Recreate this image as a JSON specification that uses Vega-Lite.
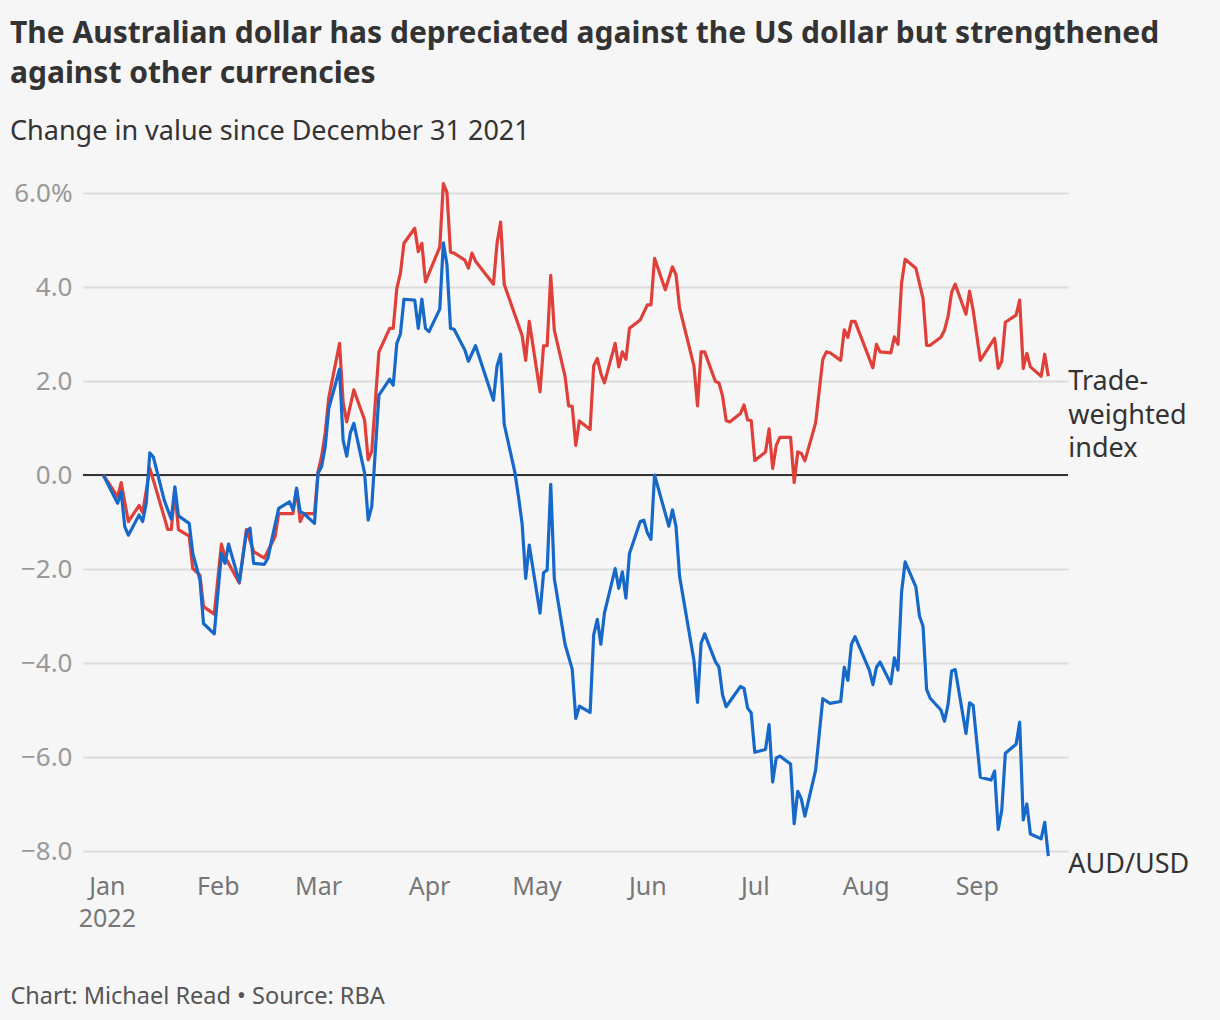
{
  "$schema": "https://vega.github.io/schema/vega-lite/v6.json",
  "width": 985,
  "height": 658,
  "autosize": "none",
  "padding": {"left": 83, "top": 193, "right": 152, "bottom": 169},
  "background": "#f6f6f6",
  "config": {"view": {"stroke": null}, "font": "Noto Sans"},
  "title": {
    "text": ["The Australian dollar has depreciated against the US dollar but strengthened", "against other currencies"],
    "subtitle": "Change in value since December 31 2021",
    "anchor": "start",
    "frame": "group",
    "dx": -73,
    "font": "Noto Sans",
    "fontSize": 30,
    "fontWeight": "bold",
    "color": "#333333",
    "lineHeight": 40,
    "subtitleFont": "Noto Sans",
    "subtitleFontSize": 27,
    "subtitleFontWeight": "normal",
    "subtitleColor": "#333333",
    "subtitlePadding": 30,
    "offset": 35
  },
  "datasets": {
    "rates": [
      {"date": "2021-12-31", "series": "AUD/USD", "value": 0},
      {"date": "2022-01-04", "series": "AUD/USD", "value": -0.60},
      {"date": "2022-01-05", "series": "AUD/USD", "value": -0.36},
      {"date": "2022-01-06", "series": "AUD/USD", "value": -1.10},
      {"date": "2022-01-07", "series": "AUD/USD", "value": -1.28},
      {"date": "2022-01-10", "series": "AUD/USD", "value": -0.85},
      {"date": "2022-01-11", "series": "AUD/USD", "value": -0.99},
      {"date": "2022-01-12", "series": "AUD/USD", "value": -0.60},
      {"date": "2022-01-13", "series": "AUD/USD", "value": 0.47},
      {"date": "2022-01-14", "series": "AUD/USD", "value": 0.38},
      {"date": "2022-01-17", "series": "AUD/USD", "value": -0.53},
      {"date": "2022-01-18", "series": "AUD/USD", "value": -0.74},
      {"date": "2022-01-19", "series": "AUD/USD", "value": -0.94},
      {"date": "2022-01-20", "series": "AUD/USD", "value": -0.25},
      {"date": "2022-01-21", "series": "AUD/USD", "value": -0.87},
      {"date": "2022-01-24", "series": "AUD/USD", "value": -1.03},
      {"date": "2022-01-25", "series": "AUD/USD", "value": -1.67},
      {"date": "2022-01-26", "series": "AUD/USD", "value": -1.95},
      {"date": "2022-01-27", "series": "AUD/USD", "value": -2.23},
      {"date": "2022-01-28", "series": "AUD/USD", "value": -3.16},
      {"date": "2022-01-31", "series": "AUD/USD", "value": -3.38},
      {"date": "2022-02-02", "series": "AUD/USD", "value": -1.67},
      {"date": "2022-02-03", "series": "AUD/USD", "value": -1.88},
      {"date": "2022-02-04", "series": "AUD/USD", "value": -1.47},
      {"date": "2022-02-07", "series": "AUD/USD", "value": -2.27},
      {"date": "2022-02-09", "series": "AUD/USD", "value": -1.21},
      {"date": "2022-02-10", "series": "AUD/USD", "value": -1.13},
      {"date": "2022-02-11", "series": "AUD/USD", "value": -1.88},
      {"date": "2022-02-14", "series": "AUD/USD", "value": -1.90},
      {"date": "2022-02-15", "series": "AUD/USD", "value": -1.77},
      {"date": "2022-02-16", "series": "AUD/USD", "value": -1.40},
      {"date": "2022-02-18", "series": "AUD/USD", "value": -0.71},
      {"date": "2022-02-21", "series": "AUD/USD", "value": -0.57},
      {"date": "2022-02-22", "series": "AUD/USD", "value": -0.74},
      {"date": "2022-02-23", "series": "AUD/USD", "value": -0.28},
      {"date": "2022-02-24", "series": "AUD/USD", "value": -0.78},
      {"date": "2022-02-25", "series": "AUD/USD", "value": -0.82},
      {"date": "2022-02-28", "series": "AUD/USD", "value": -1.03},
      {"date": "2022-03-01", "series": "AUD/USD", "value": 0.04},
      {"date": "2022-03-02", "series": "AUD/USD", "value": 0.18},
      {"date": "2022-03-03", "series": "AUD/USD", "value": 0.60},
      {"date": "2022-03-04", "series": "AUD/USD", "value": 1.42},
      {"date": "2022-03-07", "series": "AUD/USD", "value": 2.25},
      {"date": "2022-03-08", "series": "AUD/USD", "value": 0.74},
      {"date": "2022-03-09", "series": "AUD/USD", "value": 0.40},
      {"date": "2022-03-10", "series": "AUD/USD", "value": 0.89},
      {"date": "2022-03-11", "series": "AUD/USD", "value": 1.10},
      {"date": "2022-03-14", "series": "AUD/USD", "value": 0.04},
      {"date": "2022-03-15", "series": "AUD/USD", "value": -0.96},
      {"date": "2022-03-16", "series": "AUD/USD", "value": -0.67},
      {"date": "2022-03-18", "series": "AUD/USD", "value": 1.70},
      {"date": "2022-03-21", "series": "AUD/USD", "value": 2.04},
      {"date": "2022-03-22", "series": "AUD/USD", "value": 1.91},
      {"date": "2022-03-23", "series": "AUD/USD", "value": 2.80},
      {"date": "2022-03-24", "series": "AUD/USD", "value": 3.00},
      {"date": "2022-03-25", "series": "AUD/USD", "value": 3.74},
      {"date": "2022-03-28", "series": "AUD/USD", "value": 3.72},
      {"date": "2022-03-29", "series": "AUD/USD", "value": 3.12},
      {"date": "2022-03-30", "series": "AUD/USD", "value": 3.74},
      {"date": "2022-03-31", "series": "AUD/USD", "value": 3.12},
      {"date": "2022-04-01", "series": "AUD/USD", "value": 3.05},
      {"date": "2022-04-04", "series": "AUD/USD", "value": 3.53},
      {"date": "2022-04-05", "series": "AUD/USD", "value": 4.94},
      {"date": "2022-04-06", "series": "AUD/USD", "value": 4.48},
      {"date": "2022-04-07", "series": "AUD/USD", "value": 3.12},
      {"date": "2022-04-08", "series": "AUD/USD", "value": 3.10},
      {"date": "2022-04-11", "series": "AUD/USD", "value": 2.66},
      {"date": "2022-04-12", "series": "AUD/USD", "value": 2.42},
      {"date": "2022-04-14", "series": "AUD/USD", "value": 2.75},
      {"date": "2022-04-19", "series": "AUD/USD", "value": 1.59},
      {"date": "2022-04-20", "series": "AUD/USD", "value": 2.32},
      {"date": "2022-04-21", "series": "AUD/USD", "value": 2.57},
      {"date": "2022-04-22", "series": "AUD/USD", "value": 1.08},
      {"date": "2022-04-25", "series": "AUD/USD", "value": 0.05},
      {"date": "2022-04-26", "series": "AUD/USD", "value": -0.47},
      {"date": "2022-04-27", "series": "AUD/USD", "value": -1.03},
      {"date": "2022-04-28", "series": "AUD/USD", "value": -2.20},
      {"date": "2022-04-29", "series": "AUD/USD", "value": -1.49},
      {"date": "2022-05-02", "series": "AUD/USD", "value": -2.94},
      {"date": "2022-05-03", "series": "AUD/USD", "value": -2.08},
      {"date": "2022-05-04", "series": "AUD/USD", "value": -2.02},
      {"date": "2022-05-05", "series": "AUD/USD", "value": -0.20},
      {"date": "2022-05-06", "series": "AUD/USD", "value": -2.20},
      {"date": "2022-05-09", "series": "AUD/USD", "value": -3.60},
      {"date": "2022-05-11", "series": "AUD/USD", "value": -4.13},
      {"date": "2022-05-12", "series": "AUD/USD", "value": -5.18},
      {"date": "2022-05-13", "series": "AUD/USD", "value": -4.92},
      {"date": "2022-05-16", "series": "AUD/USD", "value": -5.05},
      {"date": "2022-05-17", "series": "AUD/USD", "value": -3.40},
      {"date": "2022-05-18", "series": "AUD/USD", "value": -3.07},
      {"date": "2022-05-19", "series": "AUD/USD", "value": -3.60},
      {"date": "2022-05-20", "series": "AUD/USD", "value": -2.94},
      {"date": "2022-05-23", "series": "AUD/USD", "value": -1.99},
      {"date": "2022-05-24", "series": "AUD/USD", "value": -2.41},
      {"date": "2022-05-25", "series": "AUD/USD", "value": -2.06},
      {"date": "2022-05-26", "series": "AUD/USD", "value": -2.62},
      {"date": "2022-05-27", "series": "AUD/USD", "value": -1.67},
      {"date": "2022-05-30", "series": "AUD/USD", "value": -0.99},
      {"date": "2022-05-31", "series": "AUD/USD", "value": -0.96},
      {"date": "2022-06-01", "series": "AUD/USD", "value": -1.23},
      {"date": "2022-06-02", "series": "AUD/USD", "value": -1.37},
      {"date": "2022-06-03", "series": "AUD/USD", "value": 0.0},
      {"date": "2022-06-07", "series": "AUD/USD", "value": -1.09},
      {"date": "2022-06-08", "series": "AUD/USD", "value": -0.74},
      {"date": "2022-06-09", "series": "AUD/USD", "value": -1.10},
      {"date": "2022-06-10", "series": "AUD/USD", "value": -2.16},
      {"date": "2022-06-14", "series": "AUD/USD", "value": -3.94},
      {"date": "2022-06-15", "series": "AUD/USD", "value": -4.84},
      {"date": "2022-06-16", "series": "AUD/USD", "value": -3.58},
      {"date": "2022-06-17", "series": "AUD/USD", "value": -3.38},
      {"date": "2022-06-20", "series": "AUD/USD", "value": -3.97},
      {"date": "2022-06-21", "series": "AUD/USD", "value": -4.09},
      {"date": "2022-06-22", "series": "AUD/USD", "value": -4.68},
      {"date": "2022-06-23", "series": "AUD/USD", "value": -4.93},
      {"date": "2022-06-27", "series": "AUD/USD", "value": -4.50},
      {"date": "2022-06-28", "series": "AUD/USD", "value": -4.54},
      {"date": "2022-06-29", "series": "AUD/USD", "value": -4.96},
      {"date": "2022-06-30", "series": "AUD/USD", "value": -5.06},
      {"date": "2022-07-01", "series": "AUD/USD", "value": -5.90},
      {"date": "2022-07-04", "series": "AUD/USD", "value": -5.84},
      {"date": "2022-07-05", "series": "AUD/USD", "value": -5.31},
      {"date": "2022-07-06", "series": "AUD/USD", "value": -6.53},
      {"date": "2022-07-07", "series": "AUD/USD", "value": -6.02},
      {"date": "2022-07-08", "series": "AUD/USD", "value": -5.98},
      {"date": "2022-07-11", "series": "AUD/USD", "value": -6.15},
      {"date": "2022-07-12", "series": "AUD/USD", "value": -7.42},
      {"date": "2022-07-13", "series": "AUD/USD", "value": -6.73},
      {"date": "2022-07-14", "series": "AUD/USD", "value": -6.89},
      {"date": "2022-07-15", "series": "AUD/USD", "value": -7.26},
      {"date": "2022-07-18", "series": "AUD/USD", "value": -6.28},
      {"date": "2022-07-20", "series": "AUD/USD", "value": -4.76},
      {"date": "2022-07-22", "series": "AUD/USD", "value": -4.86},
      {"date": "2022-07-25", "series": "AUD/USD", "value": -4.82},
      {"date": "2022-07-26", "series": "AUD/USD", "value": -4.09},
      {"date": "2022-07-27", "series": "AUD/USD", "value": -4.37},
      {"date": "2022-07-28", "series": "AUD/USD", "value": -3.60},
      {"date": "2022-07-29", "series": "AUD/USD", "value": -3.44},
      {"date": "2022-08-02", "series": "AUD/USD", "value": -4.15},
      {"date": "2022-08-03", "series": "AUD/USD", "value": -4.46},
      {"date": "2022-08-04", "series": "AUD/USD", "value": -4.09},
      {"date": "2022-08-05", "series": "AUD/USD", "value": -3.98},
      {"date": "2022-08-08", "series": "AUD/USD", "value": -4.44},
      {"date": "2022-08-09", "series": "AUD/USD", "value": -3.89},
      {"date": "2022-08-10", "series": "AUD/USD", "value": -4.15},
      {"date": "2022-08-11", "series": "AUD/USD", "value": -2.50},
      {"date": "2022-08-12", "series": "AUD/USD", "value": -1.85},
      {"date": "2022-08-15", "series": "AUD/USD", "value": -2.38},
      {"date": "2022-08-16", "series": "AUD/USD", "value": -3.00},
      {"date": "2022-08-17", "series": "AUD/USD", "value": -3.22},
      {"date": "2022-08-18", "series": "AUD/USD", "value": -4.56},
      {"date": "2022-08-19", "series": "AUD/USD", "value": -4.75},
      {"date": "2022-08-22", "series": "AUD/USD", "value": -5.00},
      {"date": "2022-08-23", "series": "AUD/USD", "value": -5.24},
      {"date": "2022-08-24", "series": "AUD/USD", "value": -4.88},
      {"date": "2022-08-25", "series": "AUD/USD", "value": -4.17},
      {"date": "2022-08-26", "series": "AUD/USD", "value": -4.14},
      {"date": "2022-08-29", "series": "AUD/USD", "value": -5.50},
      {"date": "2022-08-30", "series": "AUD/USD", "value": -4.85},
      {"date": "2022-08-31", "series": "AUD/USD", "value": -4.90},
      {"date": "2022-09-02", "series": "AUD/USD", "value": -6.43},
      {"date": "2022-09-05", "series": "AUD/USD", "value": -6.49},
      {"date": "2022-09-06", "series": "AUD/USD", "value": -6.30},
      {"date": "2022-09-07", "series": "AUD/USD", "value": -7.54},
      {"date": "2022-09-08", "series": "AUD/USD", "value": -7.13},
      {"date": "2022-09-09", "series": "AUD/USD", "value": -5.92},
      {"date": "2022-09-12", "series": "AUD/USD", "value": -5.73},
      {"date": "2022-09-13", "series": "AUD/USD", "value": -5.26},
      {"date": "2022-09-14", "series": "AUD/USD", "value": -7.34},
      {"date": "2022-09-15", "series": "AUD/USD", "value": -7.00},
      {"date": "2022-09-16", "series": "AUD/USD", "value": -7.64},
      {"date": "2022-09-19", "series": "AUD/USD", "value": -7.74},
      {"date": "2022-09-20", "series": "AUD/USD", "value": -7.39},
      {"date": "2022-09-21", "series": "AUD/USD", "value": -8.11},
      {"date": "2021-12-31", "series": "TWI", "value": 0},
      {"date": "2022-01-04", "series": "TWI", "value": -0.46},
      {"date": "2022-01-05", "series": "TWI", "value": -0.16},
      {"date": "2022-01-07", "series": "TWI", "value": -0.99},
      {"date": "2022-01-10", "series": "TWI", "value": -0.65},
      {"date": "2022-01-11", "series": "TWI", "value": -0.80},
      {"date": "2022-01-13", "series": "TWI", "value": 0.14},
      {"date": "2022-01-14", "series": "TWI", "value": -0.11},
      {"date": "2022-01-17", "series": "TWI", "value": -0.89},
      {"date": "2022-01-18", "series": "TWI", "value": -1.16},
      {"date": "2022-01-19", "series": "TWI", "value": -1.16},
      {"date": "2022-01-20", "series": "TWI", "value": -0.35},
      {"date": "2022-01-21", "series": "TWI", "value": -1.16},
      {"date": "2022-01-24", "series": "TWI", "value": -1.30},
      {"date": "2022-01-25", "series": "TWI", "value": -1.99},
      {"date": "2022-01-27", "series": "TWI", "value": -2.13},
      {"date": "2022-01-28", "series": "TWI", "value": -2.80},
      {"date": "2022-01-31", "series": "TWI", "value": -2.96},
      {"date": "2022-02-02", "series": "TWI", "value": -1.47},
      {"date": "2022-02-03", "series": "TWI", "value": -1.74},
      {"date": "2022-02-07", "series": "TWI", "value": -2.30},
      {"date": "2022-02-09", "series": "TWI", "value": -1.16},
      {"date": "2022-02-11", "series": "TWI", "value": -1.63},
      {"date": "2022-02-14", "series": "TWI", "value": -1.77},
      {"date": "2022-02-17", "series": "TWI", "value": -1.31},
      {"date": "2022-02-18", "series": "TWI", "value": -0.82},
      {"date": "2022-02-22", "series": "TWI", "value": -0.82},
      {"date": "2022-02-23", "series": "TWI", "value": -0.30},
      {"date": "2022-02-24", "series": "TWI", "value": -0.99},
      {"date": "2022-02-25", "series": "TWI", "value": -0.82},
      {"date": "2022-02-28", "series": "TWI", "value": -0.82},
      {"date": "2022-03-01", "series": "TWI", "value": 0.07},
      {"date": "2022-03-02", "series": "TWI", "value": 0.40},
      {"date": "2022-03-03", "series": "TWI", "value": 0.90},
      {"date": "2022-03-04", "series": "TWI", "value": 1.65},
      {"date": "2022-03-07", "series": "TWI", "value": 2.80},
      {"date": "2022-03-08", "series": "TWI", "value": 1.55},
      {"date": "2022-03-09", "series": "TWI", "value": 1.13},
      {"date": "2022-03-11", "series": "TWI", "value": 1.81},
      {"date": "2022-03-14", "series": "TWI", "value": 1.17},
      {"date": "2022-03-15", "series": "TWI", "value": 0.32},
      {"date": "2022-03-16", "series": "TWI", "value": 0.50},
      {"date": "2022-03-18", "series": "TWI", "value": 2.62},
      {"date": "2022-03-21", "series": "TWI", "value": 3.12},
      {"date": "2022-03-22", "series": "TWI", "value": 3.12},
      {"date": "2022-03-23", "series": "TWI", "value": 3.97},
      {"date": "2022-03-24", "series": "TWI", "value": 4.29},
      {"date": "2022-03-25", "series": "TWI", "value": 4.93},
      {"date": "2022-03-28", "series": "TWI", "value": 5.25},
      {"date": "2022-03-29", "series": "TWI", "value": 4.75},
      {"date": "2022-03-30", "series": "TWI", "value": 4.93},
      {"date": "2022-03-31", "series": "TWI", "value": 4.11},
      {"date": "2022-04-04", "series": "TWI", "value": 4.85},
      {"date": "2022-04-05", "series": "TWI", "value": 6.20},
      {"date": "2022-04-06", "series": "TWI", "value": 6.02},
      {"date": "2022-04-07", "series": "TWI", "value": 4.74},
      {"date": "2022-04-08", "series": "TWI", "value": 4.72},
      {"date": "2022-04-11", "series": "TWI", "value": 4.57},
      {"date": "2022-04-12", "series": "TWI", "value": 4.40},
      {"date": "2022-04-13", "series": "TWI", "value": 4.72},
      {"date": "2022-04-14", "series": "TWI", "value": 4.55},
      {"date": "2022-04-19", "series": "TWI", "value": 4.06},
      {"date": "2022-04-20", "series": "TWI", "value": 4.93},
      {"date": "2022-04-21", "series": "TWI", "value": 5.38},
      {"date": "2022-04-22", "series": "TWI", "value": 4.06},
      {"date": "2022-04-27", "series": "TWI", "value": 2.97},
      {"date": "2022-04-28", "series": "TWI", "value": 2.44},
      {"date": "2022-04-29", "series": "TWI", "value": 3.27},
      {"date": "2022-05-02", "series": "TWI", "value": 1.77},
      {"date": "2022-05-03", "series": "TWI", "value": 2.75},
      {"date": "2022-05-04", "series": "TWI", "value": 2.75},
      {"date": "2022-05-05", "series": "TWI", "value": 4.25},
      {"date": "2022-05-06", "series": "TWI", "value": 3.08},
      {"date": "2022-05-09", "series": "TWI", "value": 2.10},
      {"date": "2022-05-10", "series": "TWI", "value": 1.47},
      {"date": "2022-05-11", "series": "TWI", "value": 1.46},
      {"date": "2022-05-12", "series": "TWI", "value": 0.63},
      {"date": "2022-05-13", "series": "TWI", "value": 1.15},
      {"date": "2022-05-16", "series": "TWI", "value": 0.97},
      {"date": "2022-05-17", "series": "TWI", "value": 2.32},
      {"date": "2022-05-18", "series": "TWI", "value": 2.48},
      {"date": "2022-05-19", "series": "TWI", "value": 2.16},
      {"date": "2022-05-20", "series": "TWI", "value": 1.96},
      {"date": "2022-05-23", "series": "TWI", "value": 2.80},
      {"date": "2022-05-24", "series": "TWI", "value": 2.30},
      {"date": "2022-05-25", "series": "TWI", "value": 2.62},
      {"date": "2022-05-26", "series": "TWI", "value": 2.46},
      {"date": "2022-05-27", "series": "TWI", "value": 3.12},
      {"date": "2022-05-30", "series": "TWI", "value": 3.30},
      {"date": "2022-06-01", "series": "TWI", "value": 3.62},
      {"date": "2022-06-02", "series": "TWI", "value": 3.62},
      {"date": "2022-06-03", "series": "TWI", "value": 4.61},
      {"date": "2022-06-06", "series": "TWI", "value": 3.94},
      {"date": "2022-06-08", "series": "TWI", "value": 4.43},
      {"date": "2022-06-09", "series": "TWI", "value": 4.26},
      {"date": "2022-06-10", "series": "TWI", "value": 3.55},
      {"date": "2022-06-14", "series": "TWI", "value": 2.32},
      {"date": "2022-06-15", "series": "TWI", "value": 1.47},
      {"date": "2022-06-16", "series": "TWI", "value": 2.62},
      {"date": "2022-06-17", "series": "TWI", "value": 2.62},
      {"date": "2022-06-20", "series": "TWI", "value": 1.99},
      {"date": "2022-06-21", "series": "TWI", "value": 1.96},
      {"date": "2022-06-22", "series": "TWI", "value": 1.68},
      {"date": "2022-06-23", "series": "TWI", "value": 1.16},
      {"date": "2022-06-24", "series": "TWI", "value": 1.13},
      {"date": "2022-06-27", "series": "TWI", "value": 1.31},
      {"date": "2022-06-28", "series": "TWI", "value": 1.49},
      {"date": "2022-06-29", "series": "TWI", "value": 1.17},
      {"date": "2022-06-30", "series": "TWI", "value": 1.16},
      {"date": "2022-07-01", "series": "TWI", "value": 0.31},
      {"date": "2022-07-04", "series": "TWI", "value": 0.49},
      {"date": "2022-07-05", "series": "TWI", "value": 0.98},
      {"date": "2022-07-06", "series": "TWI", "value": 0.14},
      {"date": "2022-07-07", "series": "TWI", "value": 0.63},
      {"date": "2022-07-08", "series": "TWI", "value": 0.80},
      {"date": "2022-07-11", "series": "TWI", "value": 0.80},
      {"date": "2022-07-12", "series": "TWI", "value": -0.16},
      {"date": "2022-07-13", "series": "TWI", "value": 0.49},
      {"date": "2022-07-14", "series": "TWI", "value": 0.46},
      {"date": "2022-07-15", "series": "TWI", "value": 0.30},
      {"date": "2022-07-18", "series": "TWI", "value": 1.11},
      {"date": "2022-07-20", "series": "TWI", "value": 2.46},
      {"date": "2022-07-21", "series": "TWI", "value": 2.62},
      {"date": "2022-07-22", "series": "TWI", "value": 2.60},
      {"date": "2022-07-25", "series": "TWI", "value": 2.44},
      {"date": "2022-07-26", "series": "TWI", "value": 3.09},
      {"date": "2022-07-27", "series": "TWI", "value": 2.93},
      {"date": "2022-07-28", "series": "TWI", "value": 3.27},
      {"date": "2022-07-29", "series": "TWI", "value": 3.27},
      {"date": "2022-08-03", "series": "TWI", "value": 2.28},
      {"date": "2022-08-04", "series": "TWI", "value": 2.78},
      {"date": "2022-08-05", "series": "TWI", "value": 2.62},
      {"date": "2022-08-08", "series": "TWI", "value": 2.60},
      {"date": "2022-08-09", "series": "TWI", "value": 2.94},
      {"date": "2022-08-10", "series": "TWI", "value": 2.78},
      {"date": "2022-08-11", "series": "TWI", "value": 4.08},
      {"date": "2022-08-12", "series": "TWI", "value": 4.59},
      {"date": "2022-08-15", "series": "TWI", "value": 4.40},
      {"date": "2022-08-17", "series": "TWI", "value": 3.76},
      {"date": "2022-08-18", "series": "TWI", "value": 2.76},
      {"date": "2022-08-19", "series": "TWI", "value": 2.76},
      {"date": "2022-08-22", "series": "TWI", "value": 2.93},
      {"date": "2022-08-23", "series": "TWI", "value": 3.08},
      {"date": "2022-08-24", "series": "TWI", "value": 3.38},
      {"date": "2022-08-25", "series": "TWI", "value": 3.89},
      {"date": "2022-08-26", "series": "TWI", "value": 4.06},
      {"date": "2022-08-29", "series": "TWI", "value": 3.42},
      {"date": "2022-08-30", "series": "TWI", "value": 3.91},
      {"date": "2022-08-31", "series": "TWI", "value": 3.51},
      {"date": "2022-09-02", "series": "TWI", "value": 2.44},
      {"date": "2022-09-06", "series": "TWI", "value": 2.91},
      {"date": "2022-09-07", "series": "TWI", "value": 2.27},
      {"date": "2022-09-08", "series": "TWI", "value": 2.42},
      {"date": "2022-09-09", "series": "TWI", "value": 3.25},
      {"date": "2022-09-12", "series": "TWI", "value": 3.40},
      {"date": "2022-09-13", "series": "TWI", "value": 3.72},
      {"date": "2022-09-14", "series": "TWI", "value": 2.27},
      {"date": "2022-09-15", "series": "TWI", "value": 2.59},
      {"date": "2022-09-16", "series": "TWI", "value": 2.30},
      {"date": "2022-09-19", "series": "TWI", "value": 2.10},
      {"date": "2022-09-20", "series": "TWI", "value": 2.57},
      {"date": "2022-09-21", "series": "TWI", "value": 2.10}
    ],
    "labels": [
      {"date": "2022-09-21", "series": "TWI", "value": 2.10, "label": ["Trade-", "weighted", "index"]},
      {"date": "2022-09-21", "series": "AUD/USD", "value": -8.11, "label": "AUD/USD"}
    ],
    "zero": [{"value": 0}]
  },
  "encoding": {
    "x": {
      "field": "date",
      "type": "temporal",
      "scale": {
        "type": "utc",
        "domain": [
          {"year": 2021, "month": 12, "date": 25, "hours": 8, "utc": true},
          {"year": 2022, "month": 9, "date": 26, "hours": 12, "utc": true}
        ]
      },
      "axis": {
        "values": [
          {"year": 2022, "month": 1, "date": 1, "utc": true},
          {"year": 2022, "month": 2, "date": 1, "utc": true},
          {"year": 2022, "month": 3, "date": 1, "utc": true},
          {"year": 2022, "month": 4, "date": 1, "utc": true},
          {"year": 2022, "month": 5, "date": 1, "utc": true},
          {"year": 2022, "month": 6, "date": 1, "utc": true},
          {"year": 2022, "month": 7, "date": 1, "utc": true},
          {"year": 2022, "month": 8, "date": 1, "utc": true},
          {"year": 2022, "month": 9, "date": 1, "utc": true}
        ],
        "labelExpr": "utcmonth(datum.value) == 0 ? ['Jan', '2022'] : utcFormat(datum.value, '%b')",
        "grid": false,
        "domain": false,
        "ticks": false,
        "tickSize": 0,
        "labelPadding": 23,
        "labelFont": "Noto Sans",
        "labelFontSize": 25,
        "labelColor": "#767676",
        "labelLineHeight": 32,
        "labelFlush": false,
        "labelOverlap": false,
        "title": "Chart: Michael Read • Source: RBA",
        "titleFont": "Noto Sans",
        "titleFontSize": 23.5,
        "titleFontWeight": "normal",
        "titleColor": "#555555",
        "titleAlign": "left",
        "titleAnchor": "start",
        "titleBaseline": "alphabetic",
        "titleX": -73,
        "titleY": 152
      }
    },
    "y": {
      "field": "value",
      "type": "quantitative",
      "scale": {"domain": [-8, 6], "nice": false, "zero": false},
      "axis": {
        "values": [-8, -6, -4, -2, 0, 2, 4, 6],
        "labelExpr": "datum.value == 6 ? '6.0%' : format(datum.value, '.1f')",
        "grid": true,
        "gridColor": "#dcdcdc",
        "gridWidth": 2,
        "domain": false,
        "ticks": false,
        "tickSize": 0,
        "labelPadding": 11,
        "labelAlign": "right",
        "labelBaseline": "middle",
        "labelFont": "Noto Sans",
        "labelFontSize": 26,
        "labelColor": "#999999",
        "title": null
      }
    }
  },
  "layer": [
    {
      "data": {"name": "zero"},
      "mark": {"type": "rule", "color": "#333333", "strokeWidth": 2},
      "encoding": {"x": null, "y": {"field": "value", "type": "quantitative"}}
    },
    {
      "data": {"name": "rates"},
      "transform": [{"filter": "datum.series == 'TWI'"}],
      "mark": {"type": "line", "color": "#e0403a", "strokeWidth": 3.2, "strokeJoin": "round"}
    },
    {
      "data": {"name": "rates"},
      "transform": [{"filter": "datum.series == 'AUD/USD'"}],
      "mark": {"type": "line", "color": "#1769c9", "strokeWidth": 3.2, "strokeJoin": "round"}
    },
    {
      "data": {"name": "labels"},
      "transform": [{"filter": "datum.series == 'TWI'"}],
      "mark": {"type": "text", "align": "left", "baseline": "alphabetic", "dx": 20, "dy": 14, "font": "Noto Sans", "fontSize": 27, "lineHeight": 33.5, "color": "#333333"},
      "encoding": {"text": {"field": "label"}}
    },
    {
      "data": {"name": "labels"},
      "transform": [{"filter": "datum.series == 'AUD/USD'"}],
      "mark": {"type": "text", "align": "left", "baseline": "alphabetic", "dx": 20, "dy": 17, "font": "Noto Sans", "fontSize": 27, "color": "#333333"},
      "encoding": {"text": {"field": "label"}}
    }
  ]
}
